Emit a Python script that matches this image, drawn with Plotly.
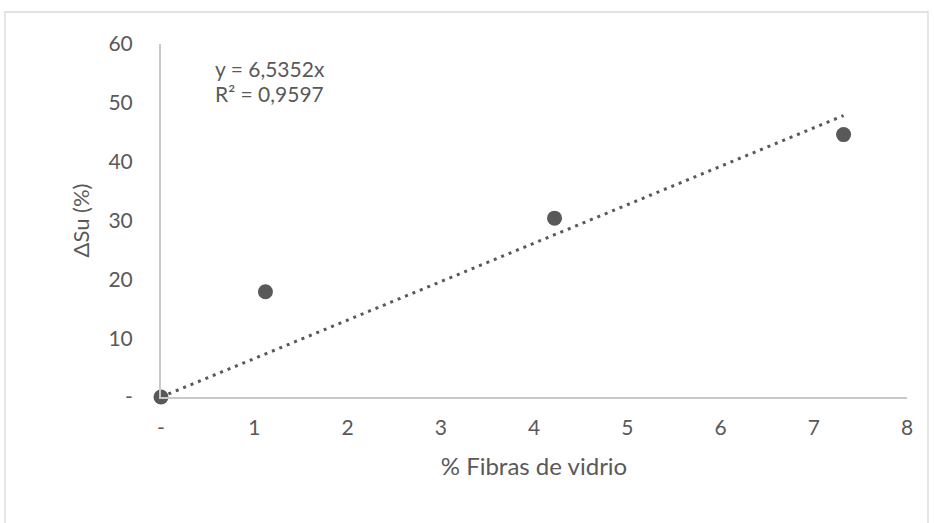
import plotly.graph_objects as go

# Data
fibras = [0.0, 1.12, 4.22, 7.32]          # % Fibras de vidrio
delta_su = [0.0, 17.9, 30.4, 44.6]        # ΔSu (%)
trend_slope = 6.5352                       # displayed trendline y = 6,5352x
r2_text = "0,9597"
x_tickvals = [0, 1, 2, 3, 4, 5, 6, 7, 8]
x_ticktext = ["-", "1", "2", "3", "4", "5", "6", "7", "8"]
y_tickvals = [0, 10, 20, 30, 40, 50, 60]
y_ticktext = ["-", "10", "20", "30", "40", "50", "60"]

W, H = 934, 523
L, R, T, B = 161, 27, 44, 126
pw, ph = W - L - R, H - T - B

grey = "#595959"
axis_grey = "#C9C9C9"
FONT = "Lato"

trend_x = [0.0, max(fibras)]
trend_y = [trend_slope * v for v in trend_x]

fig = go.Figure()
fig.add_trace(go.Scatter(
    x=trend_x, y=trend_y, mode="lines",
    line=dict(color=grey, width=3, dash="3px,5px"),
    hoverinfo="skip", showlegend=False,
))
fig.add_trace(go.Scatter(
    x=fibras, y=delta_su, mode="markers",
    marker=dict(color=grey, size=15, line=dict(width=0)),
    showlegend=False, cliponaxis=False,
))

# helpers: screen pixel -> paper coordinates
def px_x(p):
    return (p - L) / pw

def px_y(p):
    return (H - B - p) / ph

# Outer chart border (light grey)
fig.add_shape(type="rect", xref="paper", yref="paper",
              x0=px_x(5), x1=px_x(928), y0=px_y(560), y1=px_y(12),
              line=dict(color="#D9D9D9", width=1.3), fillcolor="rgba(0,0,0,0)",
              layer="below")

fig.add_annotation(x=px_x(213), y=px_y(68), xref="paper", yref="paper",
                   text=f"y = {str(trend_slope).replace('.', ',')}x",
                   showarrow=False, xanchor="left", yanchor="middle",
                   font=dict(family=FONT, size=21, color=grey))
fig.add_annotation(x=px_x(213), y=px_y(94), xref="paper", yref="paper",
                   text=f"R² = {r2_text}",
                   showarrow=False, xanchor="left", yanchor="middle",
                   font=dict(family=FONT, size=21, color=grey))

fig.update_layout(
    width=W, height=H,
    margin=dict(l=L, r=R, t=T, b=B),
    paper_bgcolor="white", plot_bgcolor="white",
    font=dict(family=FONT, size=21, color=grey),
    xaxis=dict(
        range=[0, 8], tickvals=x_tickvals, ticktext=x_ticktext,
        showgrid=False, zeroline=False,
        showline=True, linecolor=axis_grey, linewidth=2,
        ticks="", ticklabelstandoff=11,
        tickfont=dict(family=FONT, size=21, color=grey),
        title=dict(text="% Fibras de vidrio", standoff=20,
                   font=dict(family=FONT, size=24, color=grey)),
    ),
    yaxis=dict(
        range=[0, 60], tickvals=y_tickvals, ticktext=y_ticktext,
        showgrid=False, zeroline=False,
        showline=True, linecolor=axis_grey, linewidth=2,
        ticks="", ticklabelstandoff=22,
        tickfont=dict(family=FONT, size=21, color=grey),
        title=dict(text="ΔSu (%)", standoff=13,
                   font=dict(family=FONT, size=22, color=grey)),
    ),
)

fig.write_html("out.html",
               config={"displayModeBar": False},
               post_script="document.body.style.margin='0';document.body.style.overflow='hidden';")
